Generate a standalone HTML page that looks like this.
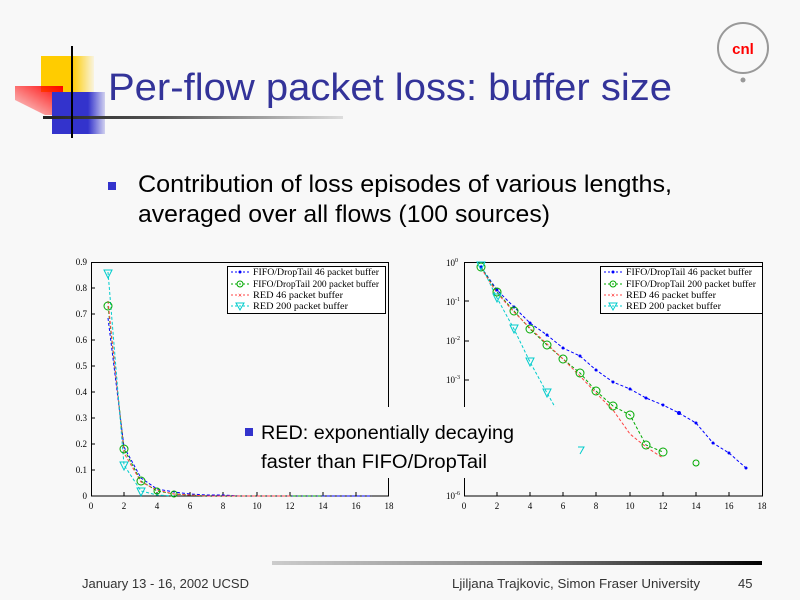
<!DOCTYPE html>
<html><head><meta charset="utf-8"><style>
html,body{margin:0;padding:0;background:#f8f8f8;}
svg{display:block;}
.t{font-family:"Liberation Sans",sans-serif;}
.s{font-family:"Liberation Serif",serif;font-size:9px;fill:#000;}
</style></head><body>
<svg width="800" height="600" viewBox="0 0 800 600" xmlns="http://www.w3.org/2000/svg">
<defs>
<linearGradient id="yf" x1="0" x2="1"><stop offset="0" stop-color="#fc0"/><stop offset="1" stop-color="#fc0" stop-opacity="0.1"/></linearGradient>
<linearGradient id="bf" x1="0" x2="1"><stop offset="0" stop-color="#33c"/><stop offset="1" stop-color="#33c" stop-opacity="0.2"/></linearGradient>
<linearGradient id="rf" x1="1" y1="0" x2="0" y2="1"><stop offset="0" stop-color="#f00"/><stop offset="1" stop-color="#f00" stop-opacity="0.1"/></linearGradient>
<linearGradient id="hl" x1="0" x2="1"><stop offset="0" stop-color="#222"/><stop offset="0.4" stop-color="#555"/><stop offset="1" stop-color="#ddd"/></linearGradient>
<linearGradient id="fl" x1="0" x2="1"><stop offset="0" stop-color="#ccc"/><stop offset="0.5" stop-color="#888"/><stop offset="1" stop-color="#000"/></linearGradient>
</defs>
<rect width="800" height="600" fill="#f8f8f8"/>
<rect x="41" y="56" width="31" height="36" fill="#fc0"/>
<rect x="72" y="56" width="22" height="36" fill="url(#yf)"/>
<polygon points="15,86 63,86 63,115 45,115 15,100" fill="url(#rf)"/>
<rect x="52" y="92" width="36" height="42" fill="#33c"/>
<rect x="88" y="92" width="17" height="42" fill="url(#bf)"/>
<rect x="43" y="116" width="300" height="3" fill="url(#hl)"/>
<rect x="71" y="46" width="2" height="92" fill="#000"/>
<circle cx="743" cy="48" r="25" fill="none" stroke="#999" stroke-width="2"/>
<circle cx="743" cy="80" r="2.5" fill="#999"/>
<text x="743" y="54" text-anchor="middle" class="t" font-size="15" font-weight="bold" fill="#f00">cnl</text>
<text x="108" y="100" class="t" font-size="38" fill="#333399" textLength="564" lengthAdjust="spacingAndGlyphs">Per-flow packet loss: buffer size</text>
<rect x="108" y="182" width="8" height="8" fill="#33c"/>
<text x="138" y="192" class="t" font-size="24" fill="#000" textLength="534" lengthAdjust="spacingAndGlyphs">Contribution of loss episodes of various lengths,</text>
<text x="138" y="222" class="t" font-size="24" fill="#000" textLength="412" lengthAdjust="spacingAndGlyphs">averaged over all flows (100 sources)</text>

<rect x="91.5" y="262.5" width="297" height="233.5" fill="none" stroke="#000"/>
<g stroke="#000" stroke-width="1">
<line x1="91" y1="470" x2="95" y2="470"/><line x1="91" y1="444" x2="95" y2="444"/><line x1="91" y1="418" x2="95" y2="418"/><line x1="91" y1="392" x2="95" y2="392"/><line x1="91" y1="366" x2="95" y2="366"/><line x1="91" y1="340" x2="95" y2="340"/><line x1="91" y1="314" x2="95" y2="314"/><line x1="91" y1="288" x2="95" y2="288"/>
<line x1="124" y1="496" x2="124" y2="492"/><line x1="157" y1="496" x2="157" y2="492"/><line x1="190" y1="496" x2="190" y2="492"/><line x1="223" y1="496" x2="223" y2="492"/><line x1="257" y1="496" x2="257" y2="492"/><line x1="290" y1="496" x2="290" y2="492"/><line x1="323" y1="496" x2="323" y2="492"/><line x1="356" y1="496" x2="356" y2="492"/>
</g>
<g text-anchor="end">
<text x="87" y="499" class="s">0</text><text x="87" y="473" class="s">0.1</text><text x="87" y="447" class="s">0.2</text><text x="87" y="421" class="s">0.3</text><text x="87" y="395" class="s">0.4</text><text x="87" y="369" class="s">0.5</text><text x="87" y="343" class="s">0.6</text><text x="87" y="317" class="s">0.7</text><text x="87" y="291" class="s">0.8</text><text x="87" y="265" class="s">0.9</text>
</g>
<g text-anchor="middle">
<text x="91" y="509" class="s">0</text><text x="124" y="509" class="s">2</text><text x="157" y="509" class="s">4</text><text x="190" y="509" class="s">6</text><text x="223" y="509" class="s">8</text><text x="257" y="509" class="s">10</text><text x="290" y="509" class="s">12</text><text x="323" y="509" class="s">14</text><text x="356" y="509" class="s">16</text><text x="389" y="509" class="s">18</text>
</g>
<g fill="none" stroke-dasharray="3,2" stroke-width="1">
<polyline stroke="#00f" points="108,318 124,447 141,478 157,489 174,492 190,494 207,495 223,495 240,496 257,496 273,496 290,496 306,496 323,496 339,496 356,496 372,496"/>
<polyline stroke="#0a0" points="108,306 124,449 141,481 157,491 174,494 190,495 207,496 223,496 240,496 257,496 273,496 290,496 323,496"/>
<polyline stroke="#f44" points="108,301 124,453 141,482 157,490 174,494 190,495 207,496 223,496 240,496 257,496 273,496 290,496"/>
<polyline stroke="#0cc" points="108,272 124,465 141,491 157,495 174,496"/>
</g>
<g fill="none" stroke-width="1">
<g stroke="#0a0"><circle cx="108" cy="306" r="4"/><circle cx="124" cy="449" r="4"/><circle cx="141" cy="481" r="4"/><circle cx="157" cy="491" r="3"/><circle cx="174" cy="494" r="3"/></g>
<g stroke="#0cc"><polygon points="104,270 112,270 108,278"/><polygon points="120,462 128,462 124,470"/><polygon points="137,488 145,488 141,496"/></g>
</g>
<rect x="227.5" y="266.5" width="158" height="47" fill="#fff" stroke="#000"/>
<g stroke-dasharray="2,2" fill="none">
<line x1="231" y1="272" x2="250" y2="272" stroke="#00f"/><line x1="231" y1="284" x2="250" y2="284" stroke="#0a0"/><line x1="231" y1="295" x2="250" y2="295" stroke="#f44"/><line x1="231" y1="306" x2="250" y2="306" stroke="#0cc"/>
</g>
<circle cx="240" cy="272" r="1.5" fill="#00f"/><circle cx="240" cy="284" r="3" fill="none" stroke="#0a0"/><text x="240" y="298" font-size="8" fill="#f44" text-anchor="middle">×</text><polygon points="236,303 244,303 240,310" fill="none" stroke="#0cc"/>
<text x="253" y="275" class="s" font-size="8" textLength="126" lengthAdjust="spacingAndGlyphs">FIFO/DropTail 46 packet buffer</text>
<text x="253" y="287" class="s" font-size="8" textLength="126" lengthAdjust="spacingAndGlyphs">FIFO/DropTail 200 packet buffer</text>
<text x="253" y="298" class="s" font-size="8" textLength="90" lengthAdjust="spacingAndGlyphs">RED 46 packet buffer</text>
<text x="253" y="309" class="s" font-size="8" textLength="95" lengthAdjust="spacingAndGlyphs">RED 200 packet buffer</text>

<rect x="464.5" y="262.5" width="298" height="233.5" fill="none" stroke="#000"/>
<g stroke="#000">
<line x1="464" y1="301" x2="469" y2="301"/><line x1="464" y1="341" x2="469" y2="341"/><line x1="464" y1="380" x2="469" y2="380"/><line x1="464" y1="419" x2="469" y2="419"/><line x1="464" y1="458" x2="469" y2="458"/>
<line x1="497" y1="496" x2="497" y2="492"/><line x1="530" y1="496" x2="530" y2="492"/><line x1="563" y1="496" x2="563" y2="492"/><line x1="596" y1="496" x2="596" y2="492"/><line x1="630" y1="496" x2="630" y2="492"/><line x1="663" y1="496" x2="663" y2="492"/><line x1="696" y1="496" x2="696" y2="492"/><line x1="729" y1="496" x2="729" y2="492"/>
</g>
<text x="446" y="266" class="s">10<tspan font-size="6" dy="-4">0</tspan></text>
<text x="446" y="305" class="s">10<tspan font-size="6" dy="-4">-1</tspan></text>
<text x="446" y="344" class="s">10<tspan font-size="6" dy="-4">-2</tspan></text>
<text x="446" y="383" class="s">10<tspan font-size="6" dy="-4">-3</tspan></text>
<text x="446" y="499" class="s">10<tspan font-size="6" dy="-4">-6</tspan></text>
<g text-anchor="middle">
<text x="464" y="509" class="s">0</text><text x="497" y="509" class="s">2</text><text x="530" y="509" class="s">4</text><text x="563" y="509" class="s">6</text><text x="596" y="509" class="s">8</text><text x="630" y="509" class="s">10</text><text x="663" y="509" class="s">12</text><text x="696" y="509" class="s">14</text><text x="729" y="509" class="s">16</text><text x="762" y="509" class="s">18</text>
</g>
<g fill="none" stroke-dasharray="3,2">
<polyline stroke="#00f" points="481,267 497,290 514,307 530,323 547,335 563,348 580,356 596,370 613,382 630,389 646,398 663,405 679,413 696,423 713,443 729,453 746,468"/>
<polyline stroke="#0a0" points="481,267 497,292 514,311 530,329 547,345 563,359 580,373 596,391 613,406 630,415 646,445 663,452"/>
<polyline stroke="#f44" points="481,268 497,293 514,312 530,328 547,344 563,359 580,376 596,393 613,410 630,434 646,447 663,458"/>
<polyline stroke="#0cc" points="481,265 497,298 514,329 530,362 547,393 555,407"/>
</g>
<g fill="#00f"><circle cx="481" cy="267" r="1.5"/><circle cx="497" cy="290" r="1.5"/><circle cx="514" cy="307" r="1.5"/><circle cx="530" cy="323" r="1.5"/><circle cx="547" cy="335" r="1.5"/><circle cx="563" cy="348" r="1.5"/><circle cx="580" cy="356" r="1.5"/><circle cx="596" cy="370" r="1.5"/><circle cx="613" cy="382" r="1.5"/><circle cx="630" cy="389" r="1.5"/><circle cx="646" cy="398" r="1.5"/><circle cx="663" cy="405" r="1.5"/><circle cx="679" cy="413" r="2"/><circle cx="696" cy="423" r="1.5"/><circle cx="713" cy="443" r="1.5"/><circle cx="729" cy="453" r="1.5"/><circle cx="746" cy="468" r="1.5"/></g>
<g fill="none" stroke="#0a0"><circle cx="481" cy="267" r="4"/><circle cx="497" cy="292" r="4"/><circle cx="514" cy="311" r="4"/><circle cx="530" cy="329" r="4"/><circle cx="547" cy="345" r="4"/><circle cx="563" cy="359" r="4"/><circle cx="580" cy="373" r="4"/><circle cx="596" cy="391" r="4"/><circle cx="613" cy="406" r="4"/><circle cx="630" cy="415" r="4"/><circle cx="646" cy="445" r="4"/><circle cx="663" cy="452" r="4"/><circle cx="696" cy="463" r="3"/></g>
<g fill="none" stroke="#0cc"><polygon points="477,262 485,262 481,270"/><polygon points="493,294 501,294 497,302"/><polygon points="510,325 518,325 514,333"/><polygon points="526,358 534,358 530,366"/><polygon points="543,389 551,389 547,397"/><path d="M578,447 L584,447 L580,454"/></g>
<rect x="600.5" y="266.5" width="162" height="47" fill="#fff" stroke="#000"/>
<g stroke-dasharray="2,2" fill="none">
<line x1="604" y1="272" x2="623" y2="272" stroke="#00f"/><line x1="604" y1="284" x2="623" y2="284" stroke="#0a0"/><line x1="604" y1="295" x2="623" y2="295" stroke="#f44"/><line x1="604" y1="306" x2="623" y2="306" stroke="#0cc"/>
</g>
<circle cx="613" cy="272" r="1.5" fill="#00f"/><circle cx="613" cy="284" r="3" fill="none" stroke="#0a0"/><text x="613" y="298" font-size="8" fill="#f44" text-anchor="middle">×</text><polygon points="609,303 617,303 613,310" fill="none" stroke="#0cc"/>
<text x="626" y="275" class="s" font-size="8" textLength="126" lengthAdjust="spacingAndGlyphs">FIFO/DropTail 46 packet buffer</text>
<text x="626" y="287" class="s" font-size="8" textLength="130" lengthAdjust="spacingAndGlyphs">FIFO/DropTail 200 packet buffer</text>
<text x="626" y="298" class="s" font-size="8" textLength="90" lengthAdjust="spacingAndGlyphs">RED 46 packet buffer</text>
<text x="626" y="309" class="s" font-size="8" textLength="95" lengthAdjust="spacingAndGlyphs">RED 200 packet buffer</text>

<rect x="237" y="407" width="323" height="71" fill="#f8f8f8"/>
<rect x="245" y="428" width="8" height="8" fill="#33c"/>
<text x="261" y="439" class="t" font-size="19" fill="#000" textLength="253" lengthAdjust="spacingAndGlyphs">RED: exponentially decaying</text>
<text x="261" y="468" class="t" font-size="19" fill="#000" textLength="226" lengthAdjust="spacingAndGlyphs">faster than FIFO/DropTail</text>

<rect x="272" y="561" width="490" height="4" fill="url(#fl)"/>
<text x="82" y="588" class="t" font-size="13" fill="#333" textLength="167" lengthAdjust="spacingAndGlyphs">January 13 - 16, 2002 UCSD</text>
<text x="452" y="588" class="t" font-size="13" fill="#333" textLength="248" lengthAdjust="spacingAndGlyphs">Ljiljana Trajkovic, Simon Fraser University</text>
<text x="738" y="588" class="t" font-size="13" fill="#333">45</text>
</svg>
</body></html>
